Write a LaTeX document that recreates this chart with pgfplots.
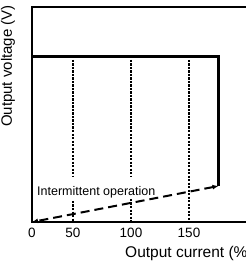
\documentclass[border=0pt]{standalone}
\usepackage{pgfplots}
\pgfplotsset{compat=1.18}
\usepackage{fontspec}
\setmainfont{Liberation Sans}
\usetikzlibrary{arrows.meta}
\begin{document}
\begin{tikzpicture}
\path[use as bounding box] (0,0) rectangle (246bp,267bp);
\clip (0,0) rectangle (246bp,267bp);
\begin{axis}[
  at={(32bp,45bp)}, anchor=south west,
  x=1bp, y=1bp,
  xmin=0, xmax=230, ymin=0, ymax=215,
  axis line style={line width=1.2bp},
  xtick={0,41,99,157}, xticklabels={0,50,100,150},
  ytick=\empty,
  major tick length=0pt,
  tick label style={font=\fontsize{13.5bp}{15bp}\selectfont},
  xticklabel style={yshift=-3bp},
  clip=false,
  /pgf/number format/assume math mode=true,
]
% dotted guide lines
\addplot[line width=1.6bp, dash pattern=on 2.2bp off 1.3bp] coordinates {(41,162) (41,45)};
\addplot[line width=1.6bp, dash pattern=on 2.2bp off 1.3bp] coordinates {(41,21) (41,0)};
\addplot[line width=1.6bp, dash pattern=on 2.2bp off 1.3bp] coordinates {(99,162) (99,45)};
\addplot[line width=1.6bp, dash pattern=on 2.2bp off 1.3bp] coordinates {(99,23) (99,0)};
\addplot[line width=1.6bp, dash pattern=on 2.2bp off 1.3bp] coordinates {(157,162) (157,0)};
% intermittent operation
\addplot[line width=2bp, dash pattern=on 9bp off 5bp, {Latex[length=6bp,width=5bp]}-{Latex[length=6bp,width=5bp]}] coordinates {(186.5,36) (0,0)};
% output characteristic
\addplot[line width=2.8bp] coordinates {(0,165.5) (186.5,165.5) (186.5,36)};
\node[anchor=base west, inner sep=0pt, font=\fontsize{12.5bp}{14bp}\selectfont] at (axis cs:5,27) {Intermittent operation};
\end{axis}
\node[rotate=90, anchor=east, inner sep=0pt, font=\fontsize{15bp}{17bp}\selectfont] at (8bp,262bp) {Output voltage (V)};
\node[anchor=base west, inner sep=0pt, font=\fontsize{15.5bp}{17bp}\selectfont] at (125bp,10bp) {Output current (\%)};
\end{tikzpicture}
\end{document}
